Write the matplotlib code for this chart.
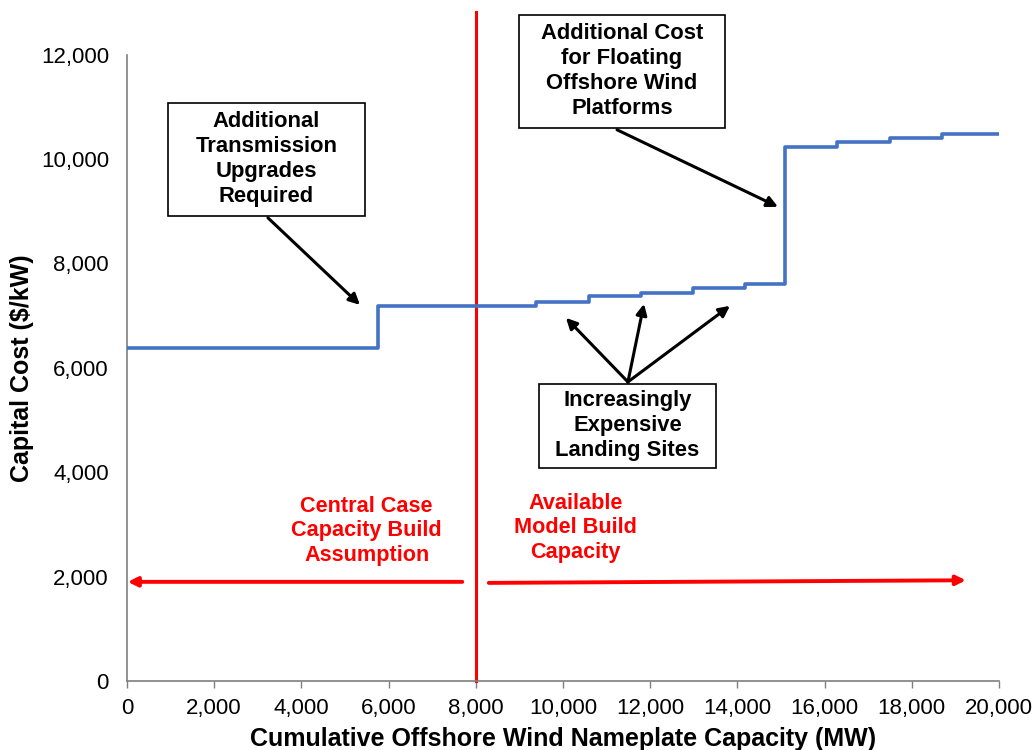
import matplotlib.pyplot as plt
from matplotlib.patches import Rectangle
from matplotlib.ticker import FuncFormatter

plt.rcParams['font.family'] = ['Liberation Sans', 'DejaVu Sans']

# supply curve (MW, $/kW)
capacity_mw = [0, 5760, 9380, 10600, 11780, 12980, 14170, 15090, 16290, 17500, 18690, 20000]
capital_cost = [6380, 7190, 7270, 7370, 7440, 7530, 7610, 10240, 10320, 10400, 10490, 10490]

central_case_mw = 8000
x_ticks = list(range(0, 20001, 2000))
y_ticks = list(range(0, 12001, 2000))

blue = '#4472C4'
red = '#FF0000'
grey = '#7F7F7F'

fig = plt.figure(figsize=(10.32, 7.5), dpi=100)
ax = fig.add_axes([0.123, 0.092, 0.845, 0.835])

ax.step(capacity_mw, capital_cost, where='post', color=blue, lw=2.6, zorder=3)

# central case line, runs past the top of the axes
ax.plot([central_case_mw, central_case_mw], [0, 12820], color=red, lw=2.2,
        clip_on=False, zorder=2)

ax.set_xlim(0, 20000)
ax.set_ylim(0, 12000)
ax.set_xticks(x_ticks)
ax.set_yticks(y_ticks)
fmt = FuncFormatter(lambda v, p: f'{int(v):,}')
ax.xaxis.set_major_formatter(fmt)
ax.yaxis.set_major_formatter(fmt)
ax.tick_params(axis='x', length=5, width=1, color=grey, pad=7, labelsize=16)
ax.tick_params(axis='y', length=0, pad=13, labelsize=16)

for s in ['top', 'right']:
    ax.spines[s].set_visible(False)
for s in ['left', 'bottom']:
    ax.spines[s].set_color(grey)
    ax.spines[s].set_linewidth(1.2)

ax.set_xlabel('Cumulative Offshore Wind Nameplate Capacity (MW)',
              fontsize=18, fontweight='bold', labelpad=6)
ax.set_ylabel('Capital Cost ($/kW)', fontsize=18, fontweight='bold')
ax.yaxis.set_label_coords(-0.106, 0.5)

# callout boxes
boxes = [
    ((940, 8913), 4519, 2166, 'Additional\nTransmission\nUpgrades\nRequired'),
    ((8991, 10600), 4725, 2166, 'Additional Cost\nfor Floating\nOffshore Wind\nPlatforms'),
    ((9450, 4083), 4059, 1610, 'Increasingly\nExpensive\nLanding Sites'),
]
for (bx, by), bw, bh, txt in boxes:
    ax.add_patch(Rectangle((bx, by), bw, bh, facecolor='white', edgecolor='black',
                           lw=1.2, clip_on=False, zorder=4))
    ax.text(bx + bw / 2, by + bh / 2, txt, ha='center', va='center',
            fontsize=15.8, fontweight='bold', linespacing=1.25, zorder=5)

arrow_black = dict(arrowstyle='-|>', lw=2.2, color='black', mutation_scale=16,
                   shrinkA=0, shrinkB=0)
ax.annotate('', xy=(5344, 7207), xytext=(3234, 8875), arrowprops=arrow_black, zorder=6)
ax.annotate('', xy=(14931, 9086), xytext=(11240, 10562), arrowprops=arrow_black, zorder=6)
for tip in [(10069, 6958), (11858, 7226), (13830, 7188)]:
    ax.annotate('', xy=tip, xytext=(11490, 5731), arrowprops=arrow_black, zorder=6)

# red capacity arrows and labels
arrow_red = dict(arrowstyle='-|>', lw=2.8, color=red, mutation_scale=14,
                 shrinkA=0, shrinkB=0)
ax.annotate('', xy=(20, 1900), xytext=(7690, 1900), arrowprops=arrow_red)
ax.annotate('', xy=(19240, 1930), xytext=(8300, 1880), arrowprops=arrow_red)

ax.text(5500, 2875, 'Central Case\nCapacity Build\nAssumption', color=red,
        ha='center', va='center', fontsize=15.6, fontweight='bold', linespacing=1.22)
ax.text(10280, 2933, 'Available\nModel Build\nCapacity', color=red,
        ha='center', va='center', fontsize=15.6, fontweight='bold', linespacing=1.22)

fig.savefig('out.png', dpi=100)
